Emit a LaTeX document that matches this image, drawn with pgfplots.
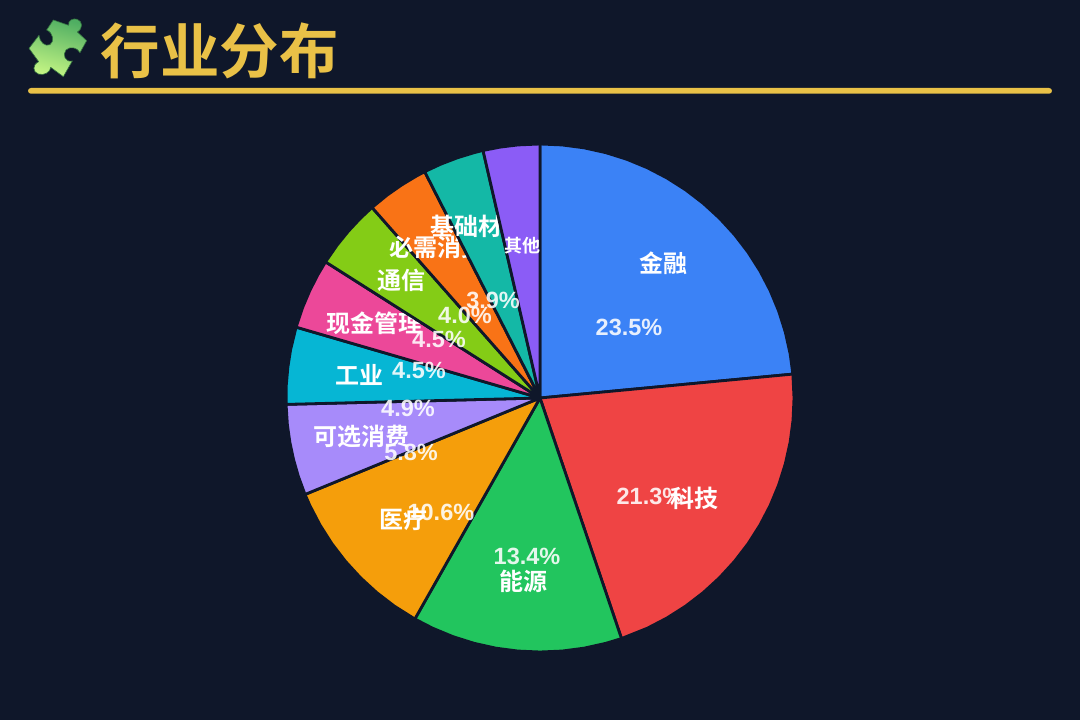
\documentclass[border=0pt]{standalone}
\usepackage{fontspec}
\setmainfont{Liberation Sans}
\newfontfamily\cjk{Noto Sans CJK SC}[BoldFont={* Bold}]
\usepackage{pgfplots}
\usepgfplotslibrary{polar}
\pgfplotsset{compat=1.18}
\definecolor{bg}{HTML}{0F172A}
\definecolor{gold}{HTML}{E9C147}
\definecolor{c1}{HTML}{3B82F6}
\definecolor{c2}{HTML}{EF4444}
\definecolor{c3}{HTML}{22C55E}
\definecolor{c4}{HTML}{F59E0B}
\definecolor{c5}{HTML}{A78BFA}
\definecolor{c6}{HTML}{06B6D4}
\definecolor{c7}{HTML}{EC4899}
\definecolor{c8}{HTML}{84CC16}
\definecolor{c9}{HTML}{F97316}
\definecolor{c10}{HTML}{14B8A6}
\definecolor{c11}{HTML}{8B5CF6}
\definecolor{pzA}{HTML}{4FAE62}
\definecolor{pzB}{HTML}{C4F584}
\pgfplotsset{wedge/.style={fill=#1,draw=bg,line width=2.8pt,line join=round,mark=none,solid}}
\newcommand{\nm}[3][24]{\node[text=white,inner sep=0pt,xshift=0.8pt,yshift=-0.8pt,font=\cjk\bfseries\fontsize{#1}{#1}\selectfont] at (axis cs:#2) {#3};}
\newcommand{\pc}[3]{\node[text=white,text opacity=0.88,inner sep=0pt,font=\bfseries\fontsize{23.5}{23.5}\selectfont] at (axis cs:#1,#2) {#3\%};}
\begin{document}
\begin{tikzpicture}[x=1pt,y=1pt]
\useasboundingbox (0,0) rectangle (1080,720);
\fill[bg] (0,0) rectangle (1080,720);
% title, rule
\node[text=gold,inner sep=0pt,font=\cjk\bfseries\fontsize{59.5}{59.5}\selectfont] at (219.5,669.5) {行业分布};
\fill[gold,rounded corners=2.9pt] (28,626.3) rectangle (1052,632);
% puzzle icon
\begin{scope}[shift={(20,710)},x=0.3333pt,y=-0.3333pt]
\shade[top color=pzA,bottom color=pzB,shading angle=-15,draw=pzA!65!black,line width=0.6pt,line join=round]
 (100,30) -- (146,46) .. controls (143,30) and (160,24) .. (172,28) .. controls (188,34) and (190,55) .. (172,66)
 -- (200,92) -- (180,128) .. controls (172,112) and (150,108) .. (138,120) .. controls (126,134) and (136,158) .. (157,153)
 -- (130,200) -- (92,172) .. controls (92,186) and (72,198) .. (55,192) .. controls (38,186) and (36,165) .. (56,155)
 -- (27,115) -- (57,76) .. controls (58,95) and (76,112) .. (90,104) .. controls (104,95) and (100,68) .. (80,60) -- cycle;
\end{scope}
\begin{polaraxis}[
  at={(540,322)},anchor=center,
  scale only axis,width=508pt,height=508pt,
  xmin=0,xmax=360,ymin=0,ymax=254,
  hide axis,clip=false]
\addplot[wedge=c1] coordinates {(0,0) (90,254) (85,254) (80,254) (75,254) (70,254) (65,254) (60,254) (55,254) (50,254) (45,254) (40,254) (35,254) (30,254) (25,254) (20,254) (15,254) (10,254) (5.4,254)} -- cycle;
\nm{47.7,183}{金融}
\addplot[wedge=c2] coordinates {(0,0) (5.4,254) (0,254) (355,254) (350,254) (345,254) (340,254) (335,254) (330,254) (325,254) (320,254) (315,254) (310,254) (305,254) (300,254) (295,254) (288.72,254)} -- cycle;
\addplot[wedge=c3] coordinates {(0,0) (288.72,254) (285,254) (280,254) (275,254) (270,254) (265,254) (260,254) (255,254) (250,254) (245,254) (240.48,254)} -- cycle;
\nm{264.6,183}{能源}
\addplot[wedge=c4] coordinates {(0,0) (240.48,254) (235,254) (230,254) (225,254) (220,254) (215,254) (210,254) (205,254) (202.32,254)} -- cycle;
\addplot[wedge=c5] coordinates {(0,0) (202.32,254) (198,254) (194,254) (190,254) (186,254) (181.44,254)} -- cycle;
\nm{191.88,183}{可选消费}
\addplot[wedge=c6] coordinates {(0,0) (181.44,254) (177,254) (173,254) (169,254) (163.8,254)} -- cycle;
\nm{172.62,183}{工业}
\addplot[wedge=c7] coordinates {(0,0) (163.8,254) (159,254) (155,254) (151,254) (147.6,254)} -- cycle;
\nm{155.7,183}{现金管理}
\addplot[wedge=c8] coordinates {(0,0) (147.6,254) (143,254) (139,254) (135,254) (131.4,254)} -- cycle;
\nm{139.5,183}{通信}
\addplot[wedge=c9] coordinates {(0,0) (131.4,254) (127,254) (123,254) (119,254) (117,254)} -- cycle;
\nm{124.2,183}{必需消费}
\addplot[wedge=c10] coordinates {(0,0) (117,254) (113,254) (109,254) (105,254) (102.96,254)} -- cycle;
\nm{109.98,183}{基础材料}
\addplot[wedge=c11] coordinates {(0,0) (102.96,254) (99,254) (95,254) (90,254)} -- cycle;
\nm[18]{96.7,154}{其他}
\pc{38.6}{113.9}{23.5}
\pc{318.3}{147.3}{21.3}
\pc{265.3}{158.5}{13.4}
\pc{229.0}{151}{10.6}
\pc{202.7}{139.8}{5.8}
\pc{184.3}{132.4}{4.9}
\pc{167.0}{124.2}{4.5}
\pc{149.7}{117}{4.5}
\pc{132.1}{111.9}{4.0}
\pc{115.6}{108.7}{3.9}
\nm{327.0,183}{科技}
\nm{221.4,183}{医疗}
\end{polaraxis}
\end{tikzpicture}
\end{document}
